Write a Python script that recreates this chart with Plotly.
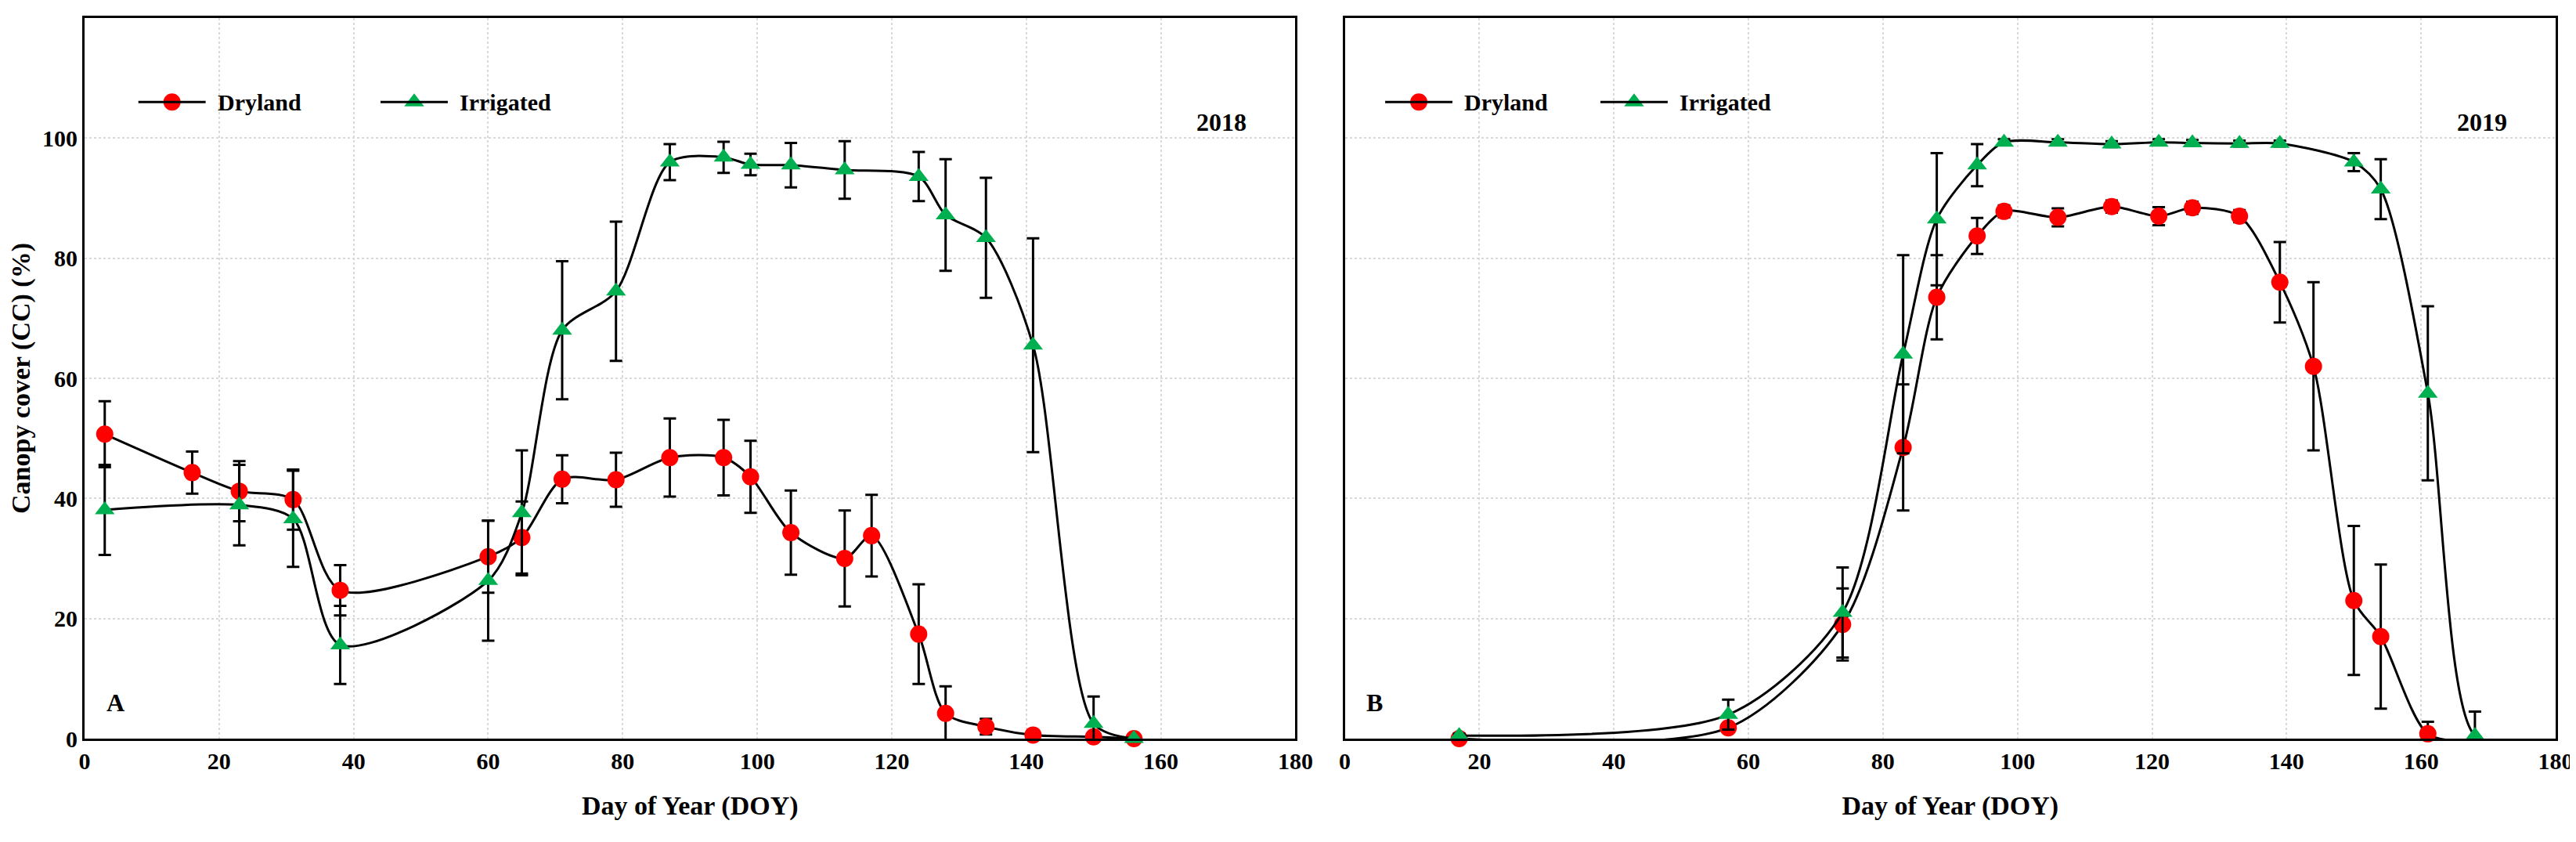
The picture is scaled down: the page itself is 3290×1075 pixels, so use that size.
import plotly.graph_objects as go
from plotly.subplots import make_subplots

# 2018
doy18_d = [3,16,23,31,38,60,65,71,79,87,95,99,105,113,117,124,128,134,141,150,156]
cc18_d = [50.7,44.3,41.2,39.8,24.7,30.3,33.5,43.2,43.1,46.8,46.8,43.6,34.3,30.0,33.8,17.4,4.2,2.0,0.6,0.3,0.0]
err18_d = [5.5,3.5,5.0,5.0,4.2,6.0,6.0,4.0,4.5,6.5,6.3,6.0,7.0,8.0,6.8,8.3,4.5,1.3,0.3,0,0]
doy18_i = [3,23,31,38,60,65,71,79,87,95,99,105,113,124,128,134,141,150,156]
cc18_i = [38.1,38.9,36.6,15.6,26.3,37.6,68.0,74.5,96.0,96.8,95.6,95.5,94.7,93.6,87.2,83.4,65.5,2.5,0.0]
err18_i = [7.5,6.7,8.0,6.5,10.0,10.4,11.5,11.6,3.0,2.6,1.8,3.7,4.8,4.1,9.3,10.0,17.8,4.5,0]
# 2019
doy19_d = [17,57,74,83,88,94,98,106,114,121,126,133,139,144,150,154,161,168,175]
cc19_d = [0.0,1.8,19.0,48.5,73.5,83.7,87.8,86.8,88.6,87.0,88.4,87.0,76.0,62.0,23.0,17.0,0.8,-0.5,-0.3]
err19_d = [0,0.5,6,10.5,7,3,1,1.5,1,1.5,1,1,6.7,14,12.4,12,2,0.5,0]
doy19_i = [17,57,74,83,88,94,98,106,114,121,126,133,139,150,154,161,168,175]
cc19_i = [0.5,4.0,21.0,64.0,86.5,95.5,99.3,99.3,99.0,99.3,99.2,99.1,99.1,96.0,91.5,57.5,0.5,-0.3]
err19_i = [0.3,2.5,7.5,16.5,11,3.5,0.5,0.5,0.5,0.5,0.5,0.5,0.5,1.5,5,14.5,4,0]

FONT = "Liberation Serif"
fig = make_subplots(rows=1, cols=2, horizontal_spacing=0.02)

def add(col, x, y, e, name, color, symbol):
    fig.add_trace(go.Scatter(
        x=x, y=y, name=name, mode="lines+markers", showlegend=False, cliponaxis=False,
        line=dict(color="black", width=3, shape="spline", smoothing=0.8),
        marker=dict(color=color, symbol=symbol, size=22),
        error_y=dict(type="data", array=e, color="black", thickness=3, width=8),
    ), row=1, col=col)

add(1, doy18_d, cc18_d, err18_d, "Dryland", "#ff0000", "circle")
add(1, doy18_i, cc18_i, err18_i, "Irrigated", "#00b050", "triangle-up")
add(2, doy19_d, cc19_d, err19_d, "Dryland", "#ff0000", "circle")
add(2, doy19_i, cc19_i, err19_i, "Irrigated", "#00b050", "triangle-up")

ax = dict(showline=True, linecolor="black", linewidth=3, mirror=True,
          showgrid=True, gridcolor="#d9d9d9", griddash="dot", gridwidth=2,
          zeroline=False, ticks="", tickfont=dict(family=FONT, size=30, color="black"))
for c in (1, 2):
    fig.update_xaxes(range=[0, 180], dtick=20, row=1, col=c, **ax,
                     title=dict(text="<b>Day of Year (DOY)</b>", standoff=30,
                                font=dict(family=FONT, size=34, color="black")))
    fig.update_yaxes(range=[0, 120], dtick=20, row=1, col=c, **ax)
fig.update_yaxes(showticklabels=False, row=1, col=2)
fig.update_yaxes(row=1, col=1, title=dict(text="<b>Canopy cover (CC) (%)</b>", standoff=10,
                 font=dict(family=FONT, size=34, color="black")))
fig.update_xaxes(tickprefix="<b>", ticksuffix="</b>")
fig.update_yaxes(tickprefix="<b>", ticksuffix="</b>")

for xr, yr, year, letter in [("x", "y", "2018", "A"), ("x2", "y2", "2019", "B")]:
    fig.add_annotation(x=173, y=100, xref=xr, yref=yr, text=f"<b>{year}</b>", showarrow=False,
                       font=dict(family=FONT, size=32, color="black"), xanchor="right", yanchor="bottom")
    fig.add_annotation(x=3, y=6, xref=xr, yref=yr, text=f"<b>{letter}</b>", showarrow=False,
                       font=dict(family=FONT, size=32, color="black"), xanchor="left")

legx = {1: [(8, 18, 19.5, "Dryland", "#ff0000", "circle"), (44, 54, 55.5, "Irrigated", "#00b050", "triangle-up")],
        2: [(6, 16, 17.5, "Dryland", "#ff0000", "circle"), (38, 48, 49.5, "Irrigated", "#00b050", "triangle-up")]}
for c, items in legx.items():
    xr = "x" if c == 1 else "x2"
    yr = "y" if c == 1 else "y2"
    for x0, x1, xt, name, color, sym in items:
        fig.add_shape(type="line", x0=x0, x1=x1, y0=106, y1=106,
                      xref=xr, yref=yr, line=dict(color="black", width=3))
        fig.add_trace(go.Scatter(x=[(x0 + x1) / 2], y=[106], mode="markers", showlegend=False, hoverinfo="skip",
                                 marker=dict(color=color, symbol=sym, size=22)), row=1, col=c)
        fig.add_annotation(x=xt, y=106, xref=xr, yref=yr, text=f"<b>{name}</b>", showarrow=False, xanchor="left",
                           font=dict(family=FONT, size=30, color="black"))

fig.update_layout(width=3290, height=1075, plot_bgcolor="white", paper_bgcolor="white",
                  margin=dict(l=80, r=15, t=15, b=140), font=dict(family=FONT))
fig.write_html("out.html")
